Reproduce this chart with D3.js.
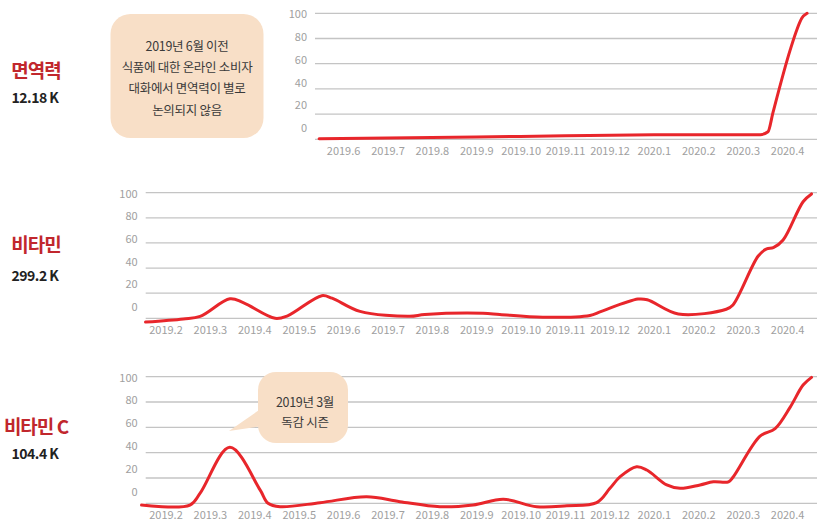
<!DOCTYPE html>
<html>
<head>
<meta charset="utf-8">
<script src="https://cdn.jsdelivr.net/npm/d3@7"></script>
<style>
  body { margin: 0; background: #fff; }
  svg { display: block; font-family: "Noto Sans CJK KR", "Noto Sans", sans-serif; }
</style>
</head>
<body>
<svg width="817" height="522"></svg>
<script>
// month labels, index 0 = 2019.2
let monthLabels = ["2019.2", "2019.3", "2019.4", "2019.5", "2019.6", "2019.7", "2019.8", "2019.9",
    "2019.10", "2019.11", "2019.12", "2020.1", "2020.2", "2020.3", "2020.4"];
let yTicks = [0, 20, 40, 60, 80, 100];

let keywords = ["면역력", "비타민", "비타민 C"];
let totals = ["12.18 K", "299.2 K", "104.4 K"];

// [month index, relative value]
let immunity = [[3.46, 0.5], [5, 1], [7, 1.8], [9, 2.8], [11, 3.6], [13.4, 3.7], [13.57, 6],
    [13.68, 21], [14.07, 71], [14.22, 87], [14.33, 96], [14.45, 100]];
let vitamin = [[-0.45, -3], [0.4, -0.5], [0.78, 1.5], [1.45, 15.5], [1.75, 12.5], [2.47, 0],
    [2.75, 2], [3.52, 18], [3.75, 16], [4.38, 5.5], [5.5, 1.6], [5.84, 3], [7.15, 4], [7.53, 3],
    [8.5, 0.8], [9.56, 2.3], [9.8, 5.3], [10.64, 15.3], [10.85, 14.8], [11.55, 3.4], [12.63, 7.2],
    [12.78, 10.6], [13.35, 49.6], [13.54, 55.2], [13.69, 56.2], [13.91, 62.3], [14.36, 92.8], [14.55, 99]];
let vitaminC = [[-0.54, -1.4], [0.55, -1.4], [0.78, 8], [1.45, 44.2], [2.13, 10.6], [2.31, 0],
    [2.58, -2.7], [3.48, 0.5], [4.53, 5.2], [5.28, 1.3], [6.18, -2.7], [6.93, -1.3], [7.61, 3.2],
    [8.36, -2.7], [9.04, -1.9], [9.71, 0.5], [10.01, 11.8], [10.24, 21], [10.61, 28.9], [10.84, 26.3],
    [11.29, 14.5], [11.59, 11.8], [12.04, 14.5], [12.34, 17], [12.68, 17], [12.79, 21], [13.39, 53],
    [13.73, 59], [14.07, 76], [14.36, 93.4], [14.55, 99.5]];

let notes = [
    ["2019년 6월 이전", "식품에 대한 온라인 소비자", "대화에서 면역력이 별로", "논의되지 않음"],
    ["2019년 3월", "독감 시즌"]
];

let svg = d3.select("svg");
let red = "#e8262b";

let x = d3.scaleLinear().domain([0, 14]).range([165.5, 787.1]);

let panels = [
    { data: immunity, top: 13.3, bottom: 139.3, left: 315, first: 4, curve: d3.curveMonotoneX },
    { data: vitamin, top: 192.7, bottom: 318.3, left: 145.7, first: 0, curve: d3.curveCatmullRom },
    { data: vitaminC, top: 376.7, bottom: 503.3, left: 145.7, first: 0, curve: d3.curveCatmullRom }
];

panels.forEach(function (p, k) {
    let g = svg.append("g");
    let y = d3.scaleLinear().domain([0, 100]).range([p.bottom, p.top]);
    // labels sit on their own, slightly tighter scale
    let yl = d3.scaleLinear().domain([0, 100]).range([p.bottom - 11.5, p.top + 0.5]);

    g.selectAll("line.grid")
        .data(yTicks)
        .enter()
        .append("line")
        .attr("class", "grid")
        .attr("x1", p.left)
        .attr("x2", 817)
        .attr("y1", d => y(d))
        .attr("y2", d => y(d))
        .style("stroke", "#c4c4c4")
        .style("stroke-width", 1.3);

    let ay = g.append("g")
        .attr("transform", `translate(${p.left - 8},0)`)
        .call(d3.axisLeft(yl).tickValues(yTicks).tickSize(0).tickPadding(0));
    ay.select(".domain").remove();
    ay.selectAll("text")
        .style("font-family", "'Noto Sans CJK KR', sans-serif")
        .style("font-size", "11px")
        .style("fill", "#a0a0a0")
        .attr("dy", "0.35em");

    let ticks = d3.range(p.first, 15);
    let ax = g.append("g")
        .attr("transform", `translate(0,${p.bottom + 8})`)
        .call(d3.axisBottom(x).tickValues(ticks).tickFormat(i => monthLabels[i]).tickSize(0).tickPadding(0));
    ax.select(".domain").remove();
    ax.selectAll("text")
        .style("font-family", "'Noto Sans CJK KR', sans-serif")
        .style("font-size", "11px")
        .style("fill", "#a0a0a0");

    let line = d3.line()
        .x(d => x(d[0]))
        .y(d => y(d[1]))
        .curve(p.curve);

    g.append("path")
        .datum(p.data)
        .attr("d", line)
        .style("fill", "none")
        .style("stroke", red)
        .style("stroke-width", 3)
        .style("stroke-linejoin", "round")
        .style("stroke-linecap", "round");

    // keyword + volume at the left
    let mid = [69, 243, 425][k];
    svg.append("text")
        .attr("x", 36)
        .attr("y", mid)
        .attr("text-anchor", "middle")
        .attr("dominant-baseline", "central")
        .style("font-size", "19px")
        .style("font-weight", "bold")
        .style("letter-spacing", "-1px")
        .style("fill", "#c1272d")
        .text(keywords[k]);
    svg.append("text")
        .attr("x", 35)
        .attr("y", [97, 275, 452.5][k])
        .attr("text-anchor", "middle")
        .attr("dominant-baseline", "central")
        .style("font-size", "14px")
        .style("font-weight", "bold")
        .style("letter-spacing", "-0.5px")
        .style("fill", "#222")
        .text(totals[k]);
});

// annotation boxes
let peach = "#f8dfc7";
svg.append("rect")
    .attr("x", 110.5)
    .attr("y", 14)
    .attr("width", 153)
    .attr("height", 124)
    .attr("rx", 20)
    .style("fill", peach);
svg.append("g").selectAll("text")
    .data(notes[0])
    .enter()
    .append("text")
    .attr("x", 187)
    .attr("y", (d, i) => 45 + i * 21.4)
    .attr("text-anchor", "middle")
    .attr("dominant-baseline", "central")
    .style("font-size", "12.5px")
    .style("letter-spacing", "-0.3px")
    .style("fill", "#3a3a3a")
    .text(d => d);

// speech bubble with tail
svg.append("path")
    .attr("d", "M262,408 L229,431 L262,426 Z")
    .style("fill", peach);
svg.append("rect")
    .attr("x", 258)
    .attr("y", 372)
    .attr("width", 90)
    .attr("height", 71)
    .attr("rx", 18)
    .style("fill", peach);
svg.append("g").selectAll("text")
    .data(notes[1])
    .enter()
    .append("text")
    .attr("x", 305)
    .attr("y", (d, i) => 401.5 + i * 19.5)
    .attr("text-anchor", "middle")
    .attr("dominant-baseline", "central")
    .style("font-size", "12.5px")
    .style("letter-spacing", "-0.3px")
    .style("fill", "#3a3a3a")
    .text(d => d);
</script>
</body>
</html>
